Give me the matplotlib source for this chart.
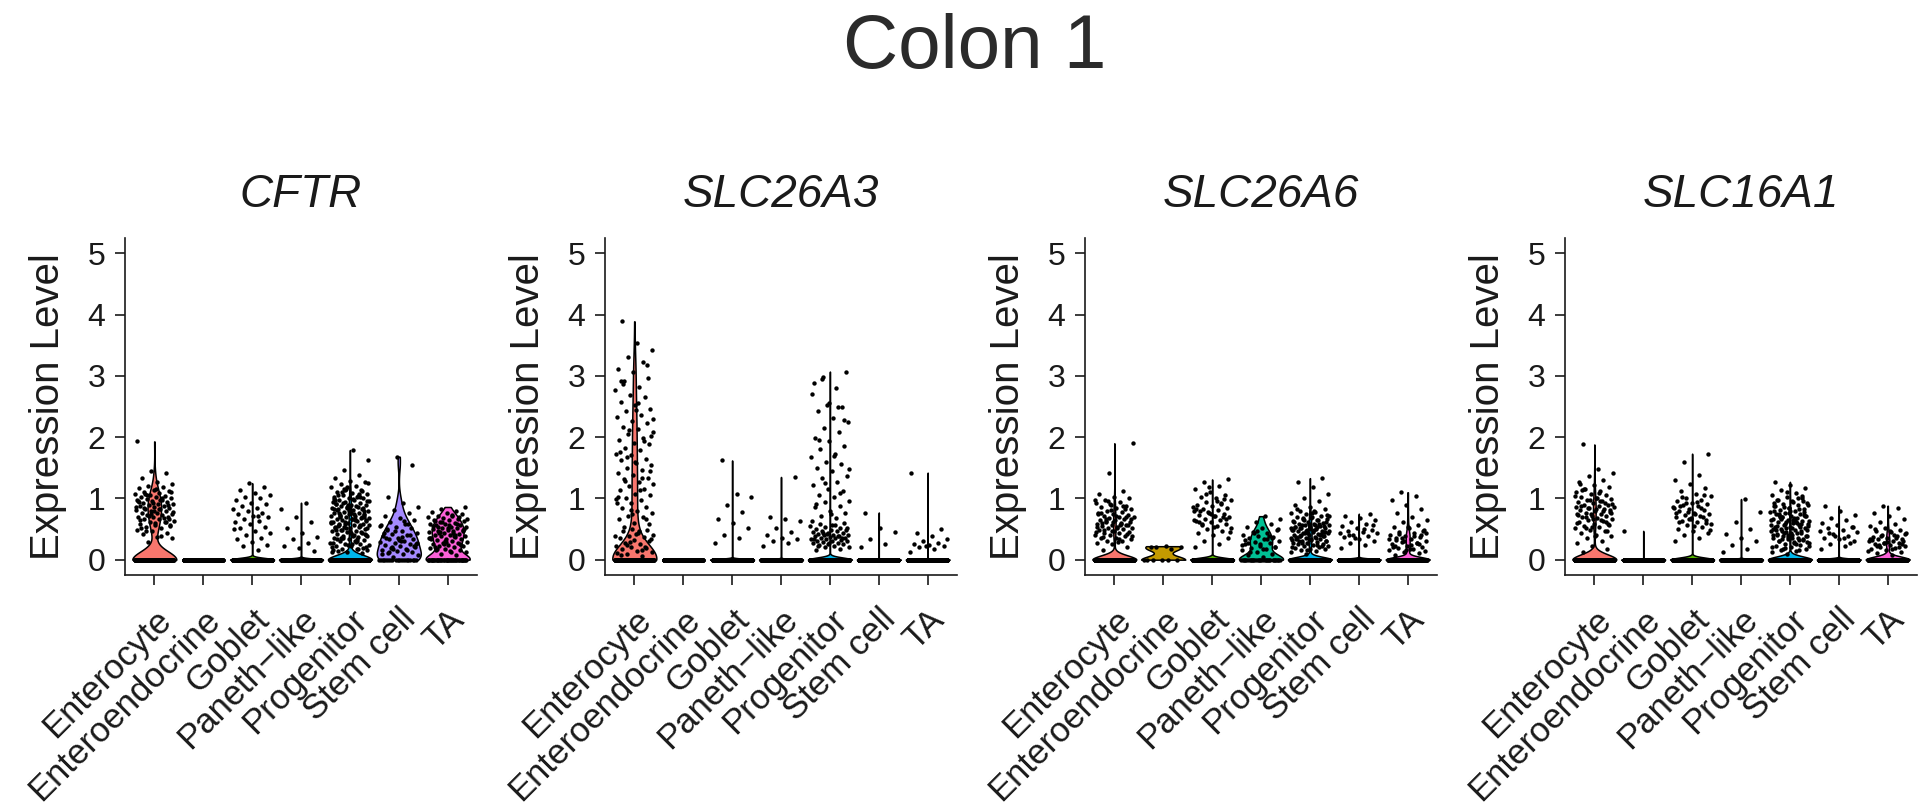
import numpy as np
import matplotlib.pyplot as plt

plt.rcParams['font.family'] = ['Liberation Sans', 'DejaVu Sans']

cell_types = ["Enterocyte", "Enteroendocrine", "Goblet", "Paneth\u2212like",
              "Progenitor", "Stem cell", "TA"]
genes = ["CFTR", "SLC26A3", "SLC26A6", "SLC16A1"]
palette = ["#F8766D", "#C49A00", "#53B400", "#00C094", "#00B6EB", "#A58AFF", "#FB61D7"]

# number of cells with zero expression, per cell type
cftr_zeros = [130, 400, 1200, 600, 600, 20, 40]
slc26a3_zeros = [150, 400, 1500, 1500, 4000, 1500, 1500]
slc26a6_zeros = [400, 6, 1500, 30, 300, 1000, 120]
slc16a1_zeros = [400, 500, 1500, 1000, 800, 1000, 200]

# non-zero expression values
cftr_enterocyte = [
    0.29, 0.35, 0.37, 0.42, 0.44, 0.47, 0.48, 0.52, 0.53, 0.56, 0.57, 0.58, 0.61, 0.61, 0.63,
    0.66, 0.66, 0.69, 0.70, 0.70, 0.73, 0.73, 0.75, 0.76, 0.77, 0.79, 0.80, 0.81, 0.83, 0.83,
    0.85, 0.86, 0.87, 0.88, 0.90, 0.91, 0.91, 0.93, 0.94, 0.95, 0.97, 0.97, 0.99, 1.00, 1.02,
    1.02, 1.04, 1.06, 1.07, 1.09, 1.11, 1.12, 1.14, 1.17, 1.19, 1.21, 1.24, 1.27, 1.33, 1.41,
    1.45, 1.93, 0.39, 0.46, 0.55, 0.60, 0.64, 0.68, 0.72, 0.78, 0.82, 0.84, 0.89, 0.92, 0.96,
    1.01, 1.05, 1.10, 1.16, 0.51, 0.62, 0.74, 0.86, 0.98, 1.08, 0.67, 0.79, 0.94]
cftr_enteroendocrine = []
cftr_goblet = [
    0.16, 0.22, 0.24, 0.29, 0.33, 0.36, 0.41, 0.43, 0.47, 0.52, 0.54, 0.58, 0.61, 0.63, 0.66,
    0.69, 0.71, 0.74, 0.77, 0.80, 0.83, 0.85, 0.88, 0.91, 0.93, 0.97, 1.00, 1.03, 1.06, 1.09,
    1.13, 1.18, 1.25, 0.50, 0.72]
cftr_paneth = [0.14, 0.19, 0.23, 0.28, 0.33, 0.37, 0.44, 0.52, 0.61, 0.69, 0.82, 0.93]
cftr_progenitor = [
    0.11, 0.12, 0.15, 0.17, 0.18, 0.20, 0.22, 0.23, 0.25, 0.26, 0.28, 0.30, 0.31, 0.32, 0.34,
    0.35, 0.37, 0.38, 0.39, 0.41, 0.42, 0.43, 0.45, 0.46, 0.47, 0.48, 0.50, 0.51, 0.52, 0.53,
    0.54, 0.56, 0.57, 0.58, 0.59, 0.60, 0.61, 0.63, 0.64, 0.65, 0.66, 0.67, 0.68, 0.69, 0.71,
    0.72, 0.73, 0.74, 0.75, 0.76, 0.77, 0.78, 0.80, 0.81, 0.82, 0.83, 0.84, 0.85, 0.87, 0.88,
    0.89, 0.90, 0.91, 0.93, 0.94, 0.95, 0.97, 0.98, 1.00, 1.01, 1.03, 1.04, 1.06, 1.08, 1.09,
    1.11, 1.13, 1.15, 1.18, 1.20, 1.23, 1.26, 1.29, 1.34, 1.38, 1.46, 1.62, 1.79, 0.14, 0.19,
    0.24, 0.27, 0.33, 0.36, 0.40, 0.44, 0.49, 0.55, 0.58, 0.62, 0.65, 0.70, 0.73, 0.79, 0.82,
    0.86, 0.92, 0.96, 0.99, 1.05, 1.12, 1.19, 0.21, 0.29, 0.35, 0.42, 0.47, 0.53, 0.57, 0.62,
    0.68, 0.74, 0.77, 0.84, 0.89, 0.94, 1.02, 1.10, 0.16, 0.26, 0.33, 0.45, 0.51, 0.60, 0.66,
    0.71, 0.80, 0.88, 0.97, 1.07, 1.16, 1.25, 0.38, 0.55, 0.70, 0.86, 0.13, 0.31, 0.48, 0.63,
    0.77, 0.91, 1.03, 1.14, 0.24, 0.41, 0.57, 0.69, 0.83, 0.99, 0.18, 0.36, 0.52, 0.67, 0.81]
cftr_stem = [
    0.05, 0.07, 0.09, 0.11, 0.12, 0.14, 0.16, 0.17, 0.19, 0.21, 0.22, 0.24, 0.26, 0.27, 0.29,
    0.31, 0.33, 0.34, 0.36, 0.38, 0.40, 0.42, 0.44, 0.46, 0.48, 0.51, 0.53, 0.56, 0.59, 0.62,
    0.65, 0.68, 0.72, 0.76, 0.81, 0.86, 0.93, 1.02, 1.54, 1.68, 0.10, 0.15, 0.20, 0.25,
    0.30, 0.35, 0.41, 0.47, 0.55, 0.63, 0.13, 0.23, 0.32, 0.43, 0.58, 0.18, 0.28, 0.37, 0.50]
cftr_ta = [
    0.08, 0.10, 0.12, 0.13, 0.15, 0.16, 0.18, 0.19, 0.20, 0.22, 0.23, 0.24, 0.26, 0.27, 0.28,
    0.29, 0.31, 0.32, 0.33, 0.34, 0.35, 0.37, 0.38, 0.39, 0.40, 0.41, 0.42, 0.43, 0.45, 0.46,
    0.47, 0.48, 0.49, 0.50, 0.51, 0.52, 0.53, 0.54, 0.56, 0.57, 0.58, 0.59, 0.60, 0.61, 0.63,
    0.64, 0.65, 0.66, 0.68, 0.69, 0.71, 0.72, 0.74, 0.76, 0.78, 0.80, 0.83, 0.86, 0.14, 0.21,
    0.25, 0.30, 0.36, 0.39, 0.44, 0.47, 0.52, 0.55, 0.58, 0.62, 0.67, 0.73, 0.17, 0.24, 0.29,
    0.34, 0.41, 0.45, 0.50, 0.57, 0.63, 0.70, 0.26, 0.36, 0.43, 0.53]

slc26a3_enterocyte = [
    0.06, 0.09, 0.12, 0.14, 0.17, 0.19, 0.21, 0.23, 0.26, 0.28, 0.30, 0.32, 0.35, 0.37, 0.39,
    0.41, 0.44, 0.46, 0.48, 0.50, 0.11, 0.16, 0.24, 0.33, 0.42, 0.08, 0.20, 0.29, 0.38, 0.47,
    0.53, 0.58, 0.60, 0.66, 0.69, 0.71, 0.77, 0.79, 0.84, 0.86, 0.92, 0.93, 0.98, 1.01, 1.06,
    1.07, 1.13, 1.15, 1.20, 1.24, 1.26, 1.32, 1.34, 1.39, 1.41, 1.47, 1.49, 1.55, 1.57, 1.63,
    1.65, 1.71, 1.73, 1.79, 1.82, 1.88, 1.90, 1.96, 1.99, 2.05, 2.08, 2.14, 2.17, 2.23, 2.26,
    2.33, 2.36, 2.43, 2.46, 2.53, 2.57, 2.65, 2.69, 2.77, 2.82, 2.91, 2.96, 3.06, 3.12, 3.23,
    3.30, 3.43, 3.54, 3.89, 0.66, 0.81, 0.99, 1.14, 1.29, 1.44, 1.60, 1.76, 1.93, 2.11, 2.30,
    2.55, 2.86, 3.18, 0.74, 1.03, 1.33, 1.68, 2.02, 2.44, 2.92]
slc26a3_enteroendocrine = []
slc26a3_goblet = [0.28, 0.36, 0.41, 0.52, 0.60, 0.67, 0.78, 0.90, 1.02, 1.08, 1.62]
slc26a3_paneth = [0.22, 0.28, 0.31, 0.34, 0.36, 0.40, 0.45, 0.52, 0.63, 0.67, 0.69, 1.35]
slc26a3_progenitor = [
    0.15, 0.18, 0.20, 0.21, 0.23, 0.24, 0.25, 0.26, 0.27, 0.28, 0.29, 0.30, 0.30, 0.31, 0.32,
    0.33, 0.34, 0.35, 0.35, 0.36, 0.37, 0.38, 0.39, 0.40, 0.40, 0.41, 0.42, 0.43, 0.44, 0.45,
    0.46, 0.47, 0.48, 0.49, 0.50, 0.52, 0.53, 0.55, 0.56, 0.58, 0.60, 0.27, 0.33, 0.38, 0.44,
    0.51, 0.57, 0.22, 0.36, 0.42, 0.63, 0.68, 0.71, 0.77, 0.79, 0.86, 0.87, 0.94, 0.96, 1.03,
    1.06, 1.12, 1.15, 1.22, 1.26, 1.33, 1.37, 1.45, 1.49, 1.56, 1.60, 1.68, 1.72, 1.81, 1.85,
    1.94, 1.99, 2.09, 2.15, 2.25, 2.32, 2.43, 2.50, 2.52, 2.71, 2.81, 2.95, 3.07, 0.74, 0.91,
    1.09, 1.25, 1.48, 1.70, 1.96, 2.28, 2.55, 2.88, 2.49, 2.98]
slc26a3_stem = [0.20, 0.26, 0.33, 0.45, 0.52, 0.77]
slc26a3_ta = [0.13, 0.17, 0.20, 0.22, 0.24, 0.26, 0.28, 0.31, 0.34, 0.38, 0.43, 0.50, 0.22, 1.42]

slc26a6_enterocyte = [
    0.16, 0.21, 0.25, 0.27, 0.30, 0.31, 0.33, 0.35, 0.36, 0.38, 0.40, 0.41, 0.43, 0.44, 0.45,
    0.47, 0.48, 0.50, 0.51, 0.52, 0.54, 0.55, 0.56, 0.57, 0.59, 0.60, 0.61, 0.62, 0.64, 0.65,
    0.66, 0.68, 0.69, 0.70, 0.72, 0.73, 0.75, 0.76, 0.78, 0.80, 0.82, 0.84, 0.86, 0.88, 0.90,
    0.92, 0.94, 0.97, 1.00, 1.03, 1.07, 1.12, 1.41, 1.90, 0.29, 0.37, 0.42, 0.46, 0.53, 0.58,
    0.63, 0.67, 0.71, 0.77, 0.83, 0.91, 0.98, 0.34, 0.49, 0.56, 0.62, 0.74, 0.87, 0.95, 0.39,
    0.52, 0.60, 0.69, 0.81, 0.45, 0.57, 0.66]
slc26a6_enteroendocrine = [0.18, 0.20, 0.21, 0.22, 0.20]
slc26a6_goblet = [
    0.21, 0.26, 0.31, 0.36, 0.40, 0.43, 0.47, 0.50, 0.52, 0.55, 0.57, 0.59, 0.61, 0.63, 0.65,
    0.67, 0.69, 0.71, 0.73, 0.75, 0.77, 0.79, 0.81, 0.83, 0.85, 0.87, 0.89, 0.92, 0.94, 0.97,
    1.00, 1.03, 1.06, 1.10, 1.15, 1.21, 1.27, 1.31, 0.54, 0.62, 0.70, 0.78, 0.86, 0.95, 0.58,
    0.66, 0.74, 0.82, 0.91, 1.08, 0.45, 0.72, 0.80, 0.99, 1.18, 0.64]
slc26a6_paneth = [
    0.05, 0.08, 0.10, 0.13, 0.15, 0.17, 0.19, 0.21, 0.23, 0.25, 0.27, 0.29, 0.31, 0.33, 0.35,
    0.37, 0.39, 0.41, 0.43, 0.45, 0.48, 0.51, 0.54, 0.58, 0.62, 0.67, 0.71, 0.12, 0.20, 0.26,
    0.32, 0.38, 0.44, 0.50, 0.18, 0.28, 0.36, 0.47, 0.24, 0.34]
slc26a6_progenitor = [
    0.10, 0.12, 0.14, 0.15, 0.17, 0.18, 0.19, 0.21, 0.22, 0.23, 0.24, 0.25, 0.26, 0.27, 0.28,
    0.29, 0.30, 0.31, 0.32, 0.33, 0.34, 0.35, 0.36, 0.37, 0.38, 0.39, 0.40, 0.41, 0.42, 0.43,
    0.44, 0.45, 0.46, 0.47, 0.48, 0.49, 0.50, 0.51, 0.52, 0.53, 0.54, 0.55, 0.56, 0.57, 0.58,
    0.59, 0.60, 0.62, 0.63, 0.64, 0.66, 0.67, 0.69, 0.70, 0.72, 0.74, 0.76, 0.78, 0.80, 0.83,
    0.86, 0.90, 0.95, 1.01, 1.08, 1.18, 1.26, 1.33, 0.16, 0.20, 0.24, 0.28, 0.31, 0.34, 0.37,
    0.40, 0.43, 0.46, 0.49, 0.52, 0.55, 0.58, 0.61, 0.65, 0.68, 0.73, 0.77, 0.82, 0.22, 0.27,
    0.32, 0.36, 0.41, 0.45, 0.50, 0.54, 0.59, 0.64, 0.71, 0.79, 0.30, 0.38, 0.44, 0.48, 0.53,
    0.57, 0.62, 0.68, 0.35, 0.42, 0.47, 0.51, 0.56, 0.39, 0.45, 0.33]
slc26a6_stem = [0.19, 0.24, 0.28, 0.31, 0.34, 0.37, 0.39, 0.41, 0.43, 0.45, 0.47, 0.49, 0.52,
                0.55, 0.58, 0.61, 0.64, 0.68, 0.72, 0.75, 0.36, 0.44, 0.50, 0.40, 0.57]
slc26a6_ta = [
    0.08, 0.11, 0.13, 0.15, 0.17, 0.19, 0.21, 0.23, 0.25, 0.27, 0.29, 0.31, 0.33, 0.35, 0.37,
    0.39, 0.41, 0.43, 0.45, 0.48, 0.51, 0.54, 0.57, 0.61, 0.65, 0.70, 0.76, 0.82, 0.89, 0.97,
    1.04, 1.10, 0.14, 0.18, 0.22, 0.26, 0.30, 0.34, 0.38, 0.42, 0.47, 0.53, 0.20, 0.28, 0.36,
    0.44, 0.24, 0.32, 0.40, 0.16]

slc16a1_enterocyte = [
    0.12, 0.18, 0.23, 0.27, 0.31, 0.35, 0.38, 0.41, 0.44, 0.46, 0.49, 0.51, 0.53, 0.55, 0.57,
    0.59, 0.61, 0.63, 0.64, 0.66, 0.68, 0.69, 0.71, 0.72, 0.74, 0.75, 0.77, 0.78, 0.80, 0.81,
    0.83, 0.84, 0.86, 0.87, 0.89, 0.90, 0.92, 0.94, 0.95, 0.97, 0.99, 1.01, 1.03, 1.05, 1.07,
    1.10, 1.12, 1.15, 1.18, 1.22, 1.26, 1.30, 1.36, 1.42, 1.48, 1.88, 0.47, 0.54, 0.60, 0.65,
    0.70, 0.76, 0.82, 0.88, 0.93, 0.98, 1.04, 1.09, 1.16, 0.58, 0.67, 0.73, 0.79, 0.85, 0.91,
    1.00, 1.13, 0.62, 0.74, 0.86, 0.96, 0.52, 0.81, 0.39, 1.24]
slc16a1_enteroendocrine = [0.47]
slc16a1_goblet = [
    0.30, 0.36, 0.40, 0.44, 0.47, 0.50, 0.53, 0.56, 0.58, 0.61, 0.63, 0.65, 0.67, 0.69, 0.71,
    0.73, 0.75, 0.77, 0.79, 0.81, 0.83, 0.85, 0.87, 0.89, 0.91, 0.93, 0.95, 0.98, 1.01, 1.04,
    1.08, 1.12, 1.17, 1.23, 1.30, 1.38, 1.59, 1.73, 0.55, 0.62, 0.70, 0.78, 0.86, 0.94, 1.02,
    0.60, 0.68, 0.76, 0.84, 0.92, 0.48, 0.74, 0.88, 1.06, 0.66]
slc16a1_paneth = [0.12, 0.18, 0.24, 0.31, 0.36, 0.42, 0.50, 0.61, 0.78, 0.99]
slc16a1_progenitor = [
    0.10, 0.12, 0.14, 0.16, 0.18, 0.20, 0.22, 0.24, 0.25, 0.27, 0.29, 0.30, 0.32, 0.33, 0.35,
    0.36, 0.38, 0.39, 0.41, 0.42, 0.44, 0.45, 0.47, 0.48, 0.50, 0.51, 0.53, 0.54, 0.56, 0.57,
    0.59, 0.60, 0.62, 0.63, 0.65, 0.66, 0.68, 0.69, 0.71, 0.72, 0.74, 0.75, 0.77, 0.78, 0.80,
    0.81, 0.83, 0.85, 0.87, 0.89, 0.91, 0.93, 0.95, 0.97, 1.00, 1.03, 1.06, 1.09, 1.13, 1.17,
    1.22, 1.27, 0.15, 0.19, 0.23, 0.28, 0.31, 0.34, 0.37, 0.40, 0.43, 0.46, 0.49, 0.52, 0.55,
    0.58, 0.61, 0.64, 0.67, 0.70, 0.73, 0.76, 0.79, 0.82, 0.86, 0.90, 0.94, 0.98, 1.04, 1.11,
    0.21, 0.26, 0.33, 0.38, 0.43, 0.48, 0.53, 0.58, 0.63, 0.68, 0.73, 0.78, 0.84, 0.92, 1.01,
    0.17, 0.29, 0.35, 0.41, 0.46, 0.52, 0.57, 0.62, 0.67, 0.72, 0.79, 0.88, 0.32, 0.44, 0.55,
    0.65, 0.75, 0.96, 0.40, 0.50, 0.60, 0.70]
slc16a1_stem = [0.18, 0.22, 0.26, 0.30, 0.33, 0.36, 0.39, 0.42, 0.45, 0.48, 0.51, 0.54, 0.57,
                0.60, 0.64, 0.68, 0.73, 0.79, 0.88, 0.28, 0.38, 0.47, 0.35, 0.44, 0.53]
slc16a1_ta = [
    0.08, 0.11, 0.13, 0.15, 0.17, 0.19, 0.21, 0.22, 0.24, 0.25, 0.27, 0.28, 0.30, 0.31, 0.33,
    0.34, 0.36, 0.37, 0.39, 0.41, 0.43, 0.45, 0.47, 0.49, 0.52, 0.55, 0.58, 0.62, 0.66, 0.71,
    0.77, 0.84, 0.88, 0.14, 0.18, 0.23, 0.26, 0.29, 0.32, 0.35, 0.38, 0.42, 0.46, 0.50, 0.20,
    0.27, 0.33, 0.40, 0.24, 0.31]

panels = [
    (cftr_zeros, [cftr_enterocyte, cftr_enteroendocrine, cftr_goblet, cftr_paneth,
                  cftr_progenitor, cftr_stem, cftr_ta]),
    (slc26a3_zeros, [slc26a3_enterocyte, slc26a3_enteroendocrine, slc26a3_goblet, slc26a3_paneth,
                     slc26a3_progenitor, slc26a3_stem, slc26a3_ta]),
    (slc26a6_zeros, [slc26a6_enterocyte, slc26a6_enteroendocrine, slc26a6_goblet, slc26a6_paneth,
                     slc26a6_progenitor, slc26a6_stem, slc26a6_ta]),
    (slc16a1_zeros, [slc16a1_enterocyte, slc16a1_enteroendocrine, slc16a1_goblet, slc16a1_paneth,
                     slc16a1_progenitor, slc16a1_stem, slc16a1_ta]),
]


def nrd0(kde):
    # R's bw.nrd0, the default bandwidth of ggplot's geom_violin
    d = kde.dataset.ravel()
    sd = d.std(ddof=1)
    q75, q25 = np.percentile(d, [75, 25])
    lo = min(sd, (q75 - q25) / 1.34)
    if lo == 0:
        lo = sd
    return 0.9 * lo * kde.num_dp ** -0.2 / sd


def jitter(n):
    # evenly spread horizontal offsets within +/-0.4 of the category
    return ((np.arange(n) * 0.6180339887) % 1.0 - 0.5) * 0.8


fig = plt.figure(figsize=(19.2, 8.11), dpi=100)
W, H = 1920, 811
ink = '#1a1a1a'

for p, (gene, (zeros, groups)) in enumerate(zip(genes, panels)):
    left = 125 + 480 * p
    ax = fig.add_axes([left / W, 1 - 575 / H, 352 / W, (575 - 238) / H])
    for i, vals in enumerate(groups):
        data = np.concatenate([np.zeros(zeros[i]), np.array(vals, dtype=float)])
        if np.any(data > 0):
            vp = ax.violinplot([data], positions=[i], widths=0.9, showextrema=False,
                               points=400, bw_method=nrd0)
            for body in vp['bodies']:
                body.set_facecolor(palette[i])
                body.set_edgecolor('black')
                body.set_linewidth(1.1)
                body.set_alpha(1)
        ax.scatter(i + jitter(len(data)), data, s=10, c='black', linewidths=0, zorder=3)

    ax.set_xlim(-0.6, 6.6)
    ax.set_ylim(-0.25, 5.25)
    ax.set_yticks(range(6))
    ax.set_xticks(range(len(cell_types)))
    ax.set_xticklabels(cell_types, rotation=45, ha='right', va='top',
                       rotation_mode='anchor', fontsize=25, color=ink)
    ax.tick_params(axis='y', labelsize=23, labelcolor=ink, pad=7)
    ax.tick_params(axis='x', pad=13)
    ax.tick_params(length=7, width=1.2, color=ink)
    for side in ['top', 'right']:
        ax.spines[side].set_visible(False)
    for side in ['left', 'bottom']:
        ax.spines[side].set_linewidth(1.2)
        ax.spines[side].set_color(ink)
    ax.set_ylabel('Expression Level', fontsize=29, color=ink)
    ax.yaxis.set_label_coords(-0.165, 0.5)
    ax.set_title(gene, fontsize=33, style='italic', color=ink, pad=22)

fig.text(975 / W, 1 - 68 / H, 'Colon 1', fontsize=55, ha='center', va='baseline', color='#2b2b2b')

fig.savefig('out.png', dpi=100)
